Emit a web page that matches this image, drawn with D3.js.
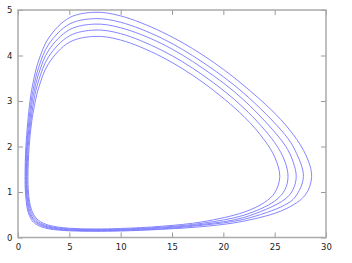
<!DOCTYPE html>
<html>
<head>
<meta charset="utf-8">
<script src="https://cdn.jsdelivr.net/npm/d3@7"></script>
<style>
  body { margin: 0; background: #fff; }
  svg { display: block; }
</style>
</head>
<body>
<svg id="chart" width="352" height="263"></svg>
<script>
// orbits, outer to inner as [x, y]
var orbit1 = [[0.69,1.34],[0.77,2],[1.17,3],[1.5,3.44],[2,3.88],[3,4.39],[5,4.83],[7.5,4.95],[10,4.87],[14,4.52],[18,4.01],[22,3.34],[26,2.49],[28,1.83],[28.6,1.34],[28,0.94],[26,0.62],[22,0.36],[18,0.24],[14,0.18],[10,0.143],[7.5,0.137],[5,0.147],[3,0.19],[2,0.26],[1.5,0.34],[1.285,0.4],[0.935,0.6],[0.725,1.0]];
var orbit2 = [[0.755,1.34],[0.843,2],[1.285,3],[1.5,3.28],[2,3.73],[3,4.25],[5,4.69],[7.5,4.81],[10,4.73],[14,4.38],[18,3.85],[22,3.17],[26,2.26],[27,1.91],[27.8,1.34],[27,0.89],[26,0.715],[22,0.40],[18,0.27],[14,0.19],[10,0.156],[7.5,0.148],[5,0.16],[3,0.21],[2,0.29],[1.5,0.38],[1.17,0.5],[1.023,0.6],[0.79,1.0]];
var orbit3 = [[0.815,1.34],[0.91,2],[1.395,3],[1.5,3.13],[2,3.59],[3,4.12],[5,4.565],[7.5,4.69],[10,4.61],[14,4.26],[18,3.72],[22,3.02],[26,2.03],[26.8,1.66],[27.1,1.34],[26.8,1.06],[26,0.84],[22,0.44],[18,0.29],[14,0.21],[10,0.167],[7.5,0.159],[5,0.172],[3,0.226],[2,0.31],[1.5,0.41],[1.268,0.5],[1.107,0.6],[0.853,1.0]];
var orbit4 = [[0.888,1.34],[0.993,2],[1.534,3],[2,3.44],[3,3.98],[5,4.43],[7.5,4.56],[10,4.48],[14,4.115],[18,3.57],[22,2.845],[25,2.086],[26,1.67],[26.3,1.34],[26,1.05],[25,0.80],[22,0.49],[18,0.315],[14,0.226],[10,0.182],[7.5,0.173],[5,0.187],[3,0.246],[2,0.341],[1.5,0.461],[1.211,0.6],[0.93,1.0]];
var orbit5 = [[0.969,1.34],[1.085,2],[1.311,2.5],[1.5,2.78],[2,3.28],[3,3.83],[5,4.29],[7.5,4.42],[10,4.34],[14,3.97],[18,3.41],[22,2.66],[24,2.14],[25,1.77],[25.5,1.34],[25,0.98],[24,0.77],[22,0.556],[18,0.346],[14,0.247],[10,0.198],[7.5,0.188],[5,0.203],[3,0.27],[2,0.377],[1.5,0.513],[1.199,0.7],[1.016,1.0]];

var xTicks = [0,5,10,15,20,25,30];
var yTicks = [0,1,2,3,4,5];

var padL = 18, padR = 326, padT = 10, padB = 237.5;
var svg = d3.select("#chart");

var x = d3.scaleLinear().domain([0,30]).range([padL,padR]);
var y = d3.scaleLinear().domain([0,5]).range([padB,padT]);

var tickCol = "#999";
var font = "DejaVu Sans, Verdana, sans-serif";
var fmt = d3.format("d");

function styleAxis(g){
  g.select(".domain").remove();
  g.selectAll("line").attr("stroke",tickCol);
  g.selectAll("text").attr("fill","#222").style("font-family",font).style("font-size","8.5px");
}

svg.append("g").attr("transform","translate(0,"+padB+")")
  .call(d3.axisBottom(x).tickValues(xTicks).tickFormat(fmt).tickSizeInner(-5).tickSizeOuter(0).tickPadding(6.8))
  .call(styleAxis);
svg.append("g").attr("transform","translate("+padL+",0)")
  .call(d3.axisLeft(y).tickValues(yTicks).tickFormat(fmt).tickSizeInner(-5).tickSizeOuter(0).tickPadding(5.5))
  .call(styleAxis);
// mirrored ticks, no labels
svg.append("g").attr("transform","translate(0,"+padT+")")
  .call(d3.axisTop(x).tickValues(xTicks).tickSizeInner(-5).tickSizeOuter(0).tickFormat(""))
  .call(styleAxis);
svg.append("g").attr("transform","translate("+padR+",0)")
  .call(d3.axisRight(y).tickValues(yTicks).tickSizeInner(-5).tickSizeOuter(0).tickFormat(""))
  .call(styleAxis);

svg.append("rect")
  .attr("x",padL).attr("y",padT)
  .attr("width",padR-padL).attr("height",padB-padT)
  .attr("fill","none").attr("stroke","#aaa").attr("stroke-width",1.5);

var line = d3.line()
  .x(function(d){ return x(d[0]); })
  .y(function(d){ return y(d[1]); })
  .curve(d3.curveCatmullRomClosed.alpha(0.5));

var orbits = [orbit1, orbit2, orbit3, orbit4, orbit5];
svg.selectAll("path.orbit").data(orbits).enter().append("path")
  .attr("class","orbit")
  .attr("d",line)
  .attr("fill","none")
  .attr("stroke","#7777ff")
  .attr("stroke-width",0.9);
</script>
</body>
</html>
